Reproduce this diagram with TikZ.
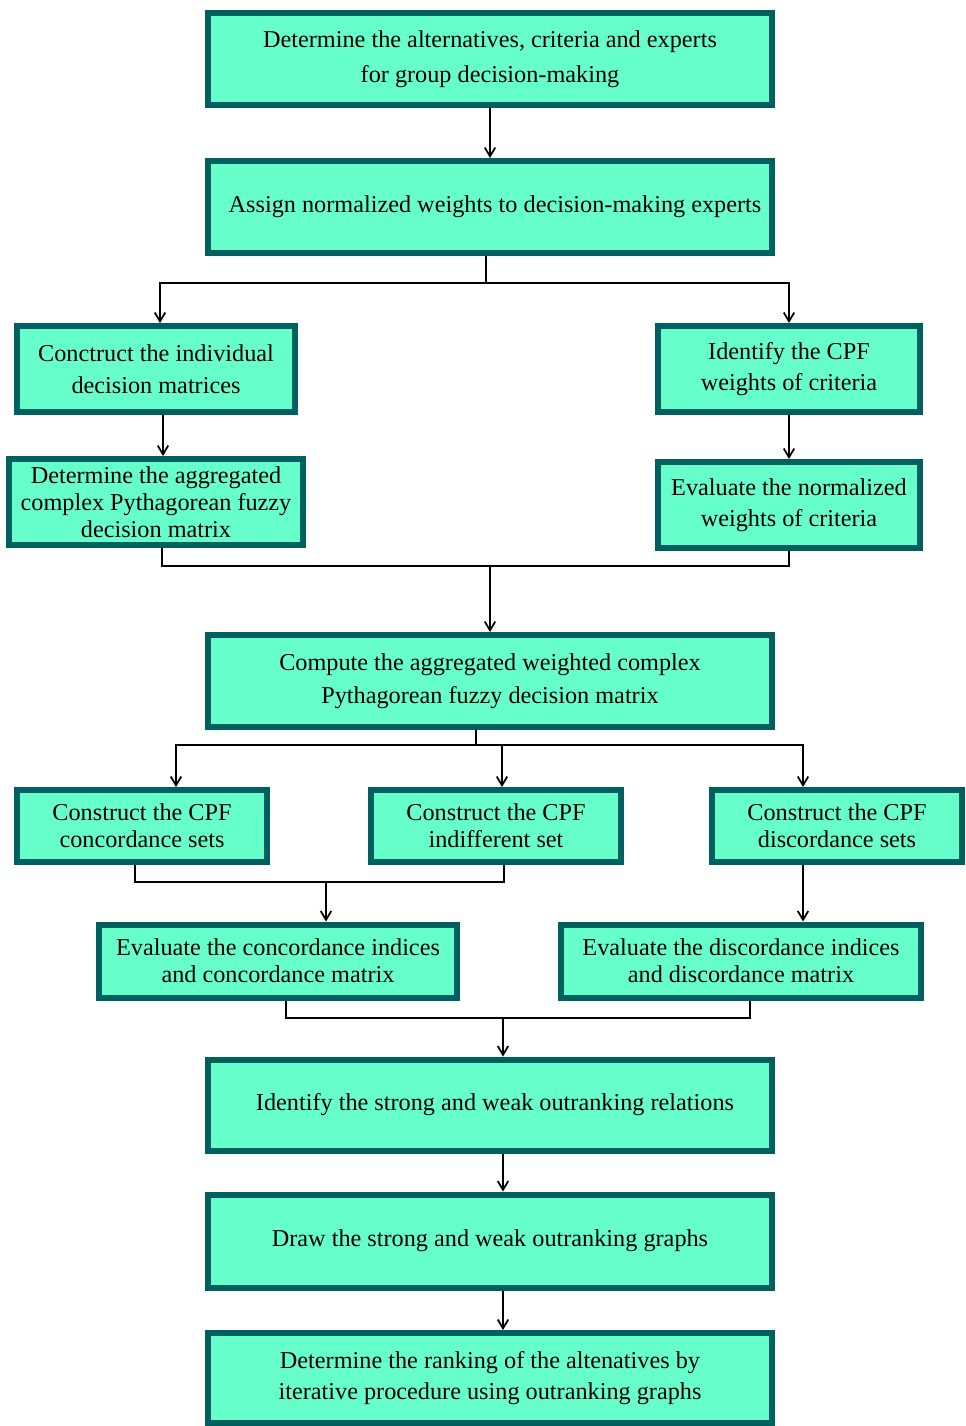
\documentclass[tikz,border=0pt]{standalone}
\usepackage{fontspec}
\setmainfont{LiberationSerif}[Extension=.ttf, UprightFont=*-Regular, BoldFont=*-Bold]
\usepackage{tikz}
\usetikzlibrary{arrows.meta}
\definecolor{stepfill}{RGB}{102, 255, 204}
\definecolor{stepline}{RGB}{0, 96, 96}

\begin{document}
\begin{tikzpicture}[x=0.02cm, y=-0.02cm,
    stepbox/.style={draw=stepline, fill=stepfill, line width=0.12cm,
        align=center, inner sep=2pt, font=\fontsize{13.8}{20}\selectfont},
    midbox/.style={stepbox, font=\fontsize{13.8}{17.5}\selectfont},
    tightbox/.style={stepbox, font=\fontsize{13.8}{15.5}\selectfont},
    arr/.style={-{Straight Barb[length=5pt, width=6pt]}, line width=1pt},
    link/.style={line width=1pt}]
    \useasboundingbox (0,0) rectangle (965,1426);

    % Top steps
    \node[stepbox, minimum width=11.28cm, minimum height=1.84cm] (alts) at (490,59)
        {Determine the alternatives, criteria and experts\\for group decision-making};
    \node[stepbox, minimum width=11.28cm, minimum height=1.84cm] (wexp) at (490,207)
        {\hspace{0.2cm}Assign normalized weights to decision-making experts};
    \draw[arr] (alts.south) -- (wexp.north);

    % Left branch: decision matrices
    \node[stepbox, font=\fontsize{13.8}{18.5}\selectfont, minimum width=5.56cm, minimum height=1.72cm] (indiv) at (156,369)
        {Conctruct the individual\\decision matrices};
    \node[tightbox, minimum width=5.88cm, minimum height=1.72cm] (aggr) at (156,502)
        {Determine the aggregated\\complex Pythagorean fuzzy\\decision matrix};
    \draw[arr] ([xshift=0.14cm]indiv.south) -- ([xshift=0.14cm]aggr.north);

    % Right branch: criteria weights
    \node[midbox, minimum width=5.26cm, minimum height=1.72cm] (cpfw) at (789,369)
        {Identify the CPF\\weights of criteria};
    \node[midbox, minimum width=5.26cm, minimum height=1.72cm] (normw) at (789,505)
        {Evaluate the normalized\\weights of criteria};
    \draw[arr] (cpfw.south) -- (normw.north);

    % Split after expert weights
    \coordinate (br1) at (486,283);
    \draw[link] (wexp.south -| br1) -- (br1);
    \draw[arr] (br1) -| ([xshift=0.08cm]indiv.north);
    \draw[arr] (br1) -| (cpfw.north);

    % Aggregated weighted matrix
    \node[stepbox, font=\fontsize{13.8}{18.5}\selectfont, minimum width=11.28cm, minimum height=1.84cm] (awm) at (490,681)
        {Compute the aggregated weighted complex\\Pythagorean fuzzy decision matrix};
    \coordinate (mg1) at (490,566);
    \draw[link] ([xshift=0.12cm]aggr.south) |- (mg1) -| (normw.south);
    \draw[arr] (mg1) -- (awm.north);

    % CPF sets
    \node[tightbox, minimum width=5.0cm, minimum height=1.44cm] (conc) at (142,826)
        {Construct the CPF\\concordance sets};
    \node[tightbox, minimum width=5.02cm, minimum height=1.44cm] (indif) at (496,826)
        {Construct the CPF\\indifferent set};
    \node[tightbox, minimum width=5.0cm, minimum height=1.44cm] (disc) at (837,826)
        {Construct the CPF\\discordance sets};
    \coordinate (br2) at (476,745);
    \draw[link] (awm.south -| br2) -- (br2);
    \draw[arr] (br2) -| ([xshift=0.68cm]conc.north);
    \draw[arr] (br2) -| ([xshift=0.12cm]indif.north);
    \draw[arr] (br2) -| ([xshift=-0.68cm]disc.north);

    % Indices and matrices
    \node[tightbox, minimum width=7.18cm, minimum height=1.46cm] (cidx) at (278,961)
        {Evaluate the concordance indices\\and concordance matrix};
    \node[tightbox, minimum width=7.22cm, minimum height=1.46cm] (didx) at (741,961)
        {Evaluate the discordance indices\\and discordance matrix};
    \coordinate (mg2) at (326,882);
    \draw[link] ([xshift=-0.14cm]conc.south) |- (mg2) -| ([xshift=0.16cm]indif.south);
    \draw[arr] (mg2) -- (mg2 |- cidx.north);
    \draw[arr] ([xshift=-0.68cm]disc.south) -- ([xshift=-0.68cm]disc.south |- didx.north);

    % Outranking and ranking
    \node[stepbox, minimum width=11.28cm, minimum height=1.82cm] (rel) at (490,1105)
        {\hspace{0.2cm}Identify the strong and weak outranking relations};
    \node[stepbox, minimum width=11.28cm, minimum height=1.86cm] (graphs) at (490,1241)
        {Draw the strong and weak outranking graphs};
    \node[midbox, minimum width=11.28cm, minimum height=1.80cm] (rank) at (490,1378)
        {Determine the ranking of the altenatives by\\iterative procedure using outranking graphs};
    \coordinate (mg3) at (503,1018);
    \draw[link] ([xshift=0.16cm]cidx.south) |- (mg3) -| ([xshift=0.18cm]didx.south);
    \draw[arr] (mg3) -- (mg3 |- rel.north);
    \draw[arr] ([xshift=0.26cm]rel.south) -- ([xshift=0.26cm]graphs.north);
    \draw[arr] ([xshift=0.26cm]graphs.south) -- ([xshift=0.26cm]rank.north);
\end{tikzpicture}
\end{document}
